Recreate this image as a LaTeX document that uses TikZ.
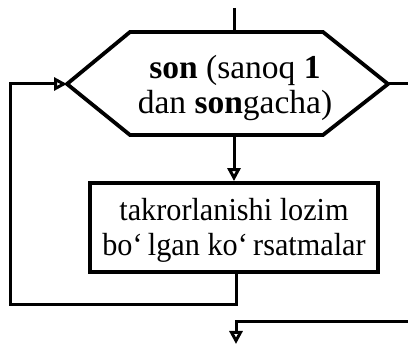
\documentclass[tikz,border=0pt]{standalone}
\usepackage{fontspec}
\setmainfont{Liberation Serif}
\newfontfamily\narrowserif[FakeStretch=0.945]{Liberation Serif}
\usetikzlibrary{arrows.meta}
\begin{document}
\begin{tikzpicture}[x=1pt,y=-1pt,
  shape line/.style={line width=3.8pt,line join=miter},
  conn/.style={line width=3pt},
  tip/.style={-{Triangle[length=13pt,width=13pt,fill=white,line width=3pt]}},
  lbl/.style={align=center,inner sep=0pt}]
\useasboundingbox (0,0) rectangle (408,345);
% hexagon
\coordinate (hT) at (234,32);
\coordinate (hB) at (234,135);
\coordinate (hL) at (67,84);
\coordinate (hR) at (388,84);
\draw[shape line] (130,32) -- (323,32) -- (hR) -- (323,135) -- (130,135) -- (hL) -- cycle;
\node[lbl,font=\fontsize{33.5}{35}\selectfont] (hex) at (235,88) {\textbf{son} (sanoq \textbf{1}\\dan \textbf{son}gacha)};
% box
\node[draw,line width=3.8pt,minimum width=288pt,minimum height=89pt] (box) at (234,227.5) {};
\node[lbl,font=\narrowserif\fontsize{32}{35}\selectfont] (boxtext) at (234,230)
  {takrorlanishi lozim\\bo‘\,lgan ko‘\,rsatmalar};
% connectors
\coordinate (top) at (234,8);
\draw[conn] (top) -- (hT);
\draw[conn,tip] (hB) -- (box.north);
\coordinate (lc1) at (236,305);
\coordinate (lc2) at (10,305);
\coordinate (lc3) at (10,84);
\draw[conn,tip] (box.south -| lc1) -- (lc1) -- (lc2) -- (lc3) -- (hL);
\coordinate (rout) at (408,84);
\draw[conn] (hR) -- (rout);
\coordinate (bin) at (408,322);
\coordinate (bc) at (236,322);
\coordinate (bout) at (236,344);
\draw[conn,tip] (bin) -- (bc) -- (bout);
\end{tikzpicture}
\end{document}
